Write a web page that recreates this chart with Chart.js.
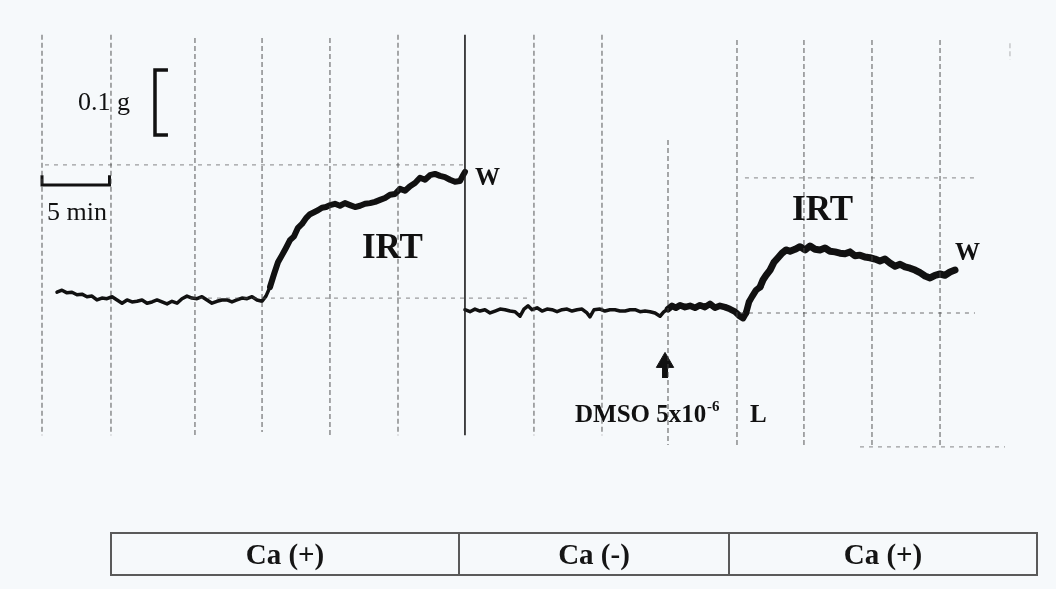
<!DOCTYPE html>
<html>
<head>
<meta charset="utf-8">
<script src="https://cdn.jsdelivr.net/npm/chart.js@4.4.1/dist/chart.umd.min.js"></script>
<style>
  html, body { margin: 0; padding: 0; background: #f6f9fb; }
  #wrap { position: relative; width: 1056px; height: 589px; overflow: hidden; }
  #trace { position: absolute; left: 0; top: 0; }
  #ca {
    position: absolute; left: 110px; top: 532px; width: 926px; height: 44px;
    border-collapse: collapse; table-layout: fixed;
    font-family: "Liberation Serif", "Times New Roman", serif;
    font-weight: bold; font-size: 29px; color: #151515;
  }
  #ca td { border: 2px solid #5a5a5a; text-align: center; padding: 0; }
</style>
</head>
<body>
<div id="wrap">
  <canvas id="trace" width="1056" height="589"></canvas>
  <table id="ca">
    <colgroup><col style="width:348px"><col style="width:270px"><col style="width:308px"></colgroup>
    <tr><td>Ca (+)</td><td>Ca (-)</td><td>Ca (+)</td></tr>
  </table>
</div>
<script>
// isometric tension trace, time in min, tension in g (0 = resting baseline)

// Ca(+) baseline, then IRT contraction until the wash (W)
const irt1Time = [1.11, 1.48, 1.85, 2.22, 2.59, 2.96, 3.33, 3.70, 4.07, 4.44,
  4.81, 5.19, 5.56, 5.93, 6.30, 6.67, 7.04, 7.41, 7.78, 8.15,
  8.52, 8.89, 9.26, 9.63, 10.00, 10.37, 10.74, 11.11, 11.48, 11.85,
  12.22, 12.59, 12.96, 13.33, 13.70, 14.07, 14.44, 14.81, 15.19, 15.56,
  15.93, 16.30,
  16.59, 16.89, 17.19, 17.48, 17.78, 18.07, 18.37, 18.67, 18.96, 19.26,
  19.56, 19.85, 20.15, 20.44, 20.74, 21.04, 21.33,
  21.70, 22.07, 22.44, 22.81, 23.19, 23.56, 23.93, 24.30, 24.67, 25.04,
  25.41, 25.78, 26.15, 26.52, 26.89, 27.26, 27.63, 28.00, 28.37, 28.74,
  29.11, 29.48, 29.85, 30.22, 30.59, 30.96, 31.19, 31.33];
const irt1Force = [0.012, 0.015, 0.011, 0.012, 0.008, 0.009, 0.005, 0.006, 0.000, 0.003,
  0.002, 0.005, 0.000, -0.005, 0.000, -0.003, -0.002, 0.000, -0.005, -0.003,
  0.000, -0.003, -0.006, -0.002, -0.005, 0.002, 0.006, 0.003, 0.002, 0.005,
  0.000, -0.005, -0.002, 0.000, 0.000, -0.003, 0.000, 0.003, 0.002, 0.005,
  0.000, -0.002,
  0.006, 0.020, 0.040, 0.058, 0.069, 0.080, 0.092, 0.098, 0.111, 0.117,
  0.126, 0.132, 0.135, 0.138, 0.142, 0.143, 0.146,
  0.148, 0.145, 0.149, 0.146, 0.143, 0.145, 0.148, 0.149, 0.151, 0.154,
  0.157, 0.162, 0.163, 0.171, 0.168, 0.175, 0.180, 0.188, 0.185, 0.192,
  0.194, 0.191, 0.189, 0.185, 0.182, 0.183, 0.192, 0.197];

// Ca(-) after the wash
const washTime = [31.33, 31.70, 32.07, 32.44, 32.81, 33.19, 33.56, 33.93, 34.30, 34.67,
  35.04, 35.41, 35.70, 36.00, 36.30, 36.67, 37.04, 37.41, 37.78, 38.15,
  38.52, 38.89, 39.26, 39.63, 40.00, 40.37, 40.59, 40.89, 41.33, 41.70,
  42.07, 42.44, 42.81, 43.19, 43.56, 43.93, 44.30, 44.67, 45.04, 45.41,
  45.78, 46.07, 46.37];
const washForce = [-0.015, -0.018, -0.014, -0.017, -0.015, -0.020, -0.017, -0.014, -0.015, -0.017,
  -0.018, -0.025, -0.014, -0.009, -0.015, -0.012, -0.017, -0.014, -0.015, -0.018,
  -0.015, -0.014, -0.017, -0.015, -0.014, -0.020, -0.026, -0.015, -0.014, -0.017,
  -0.015, -0.015, -0.017, -0.017, -0.015, -0.015, -0.018, -0.017, -0.018, -0.020,
  -0.025, -0.018, -0.014];

// after DMSO 5x10^-6 L
const dmsoTime = [46.37, 46.67, 46.96, 47.26, 47.63, 48.00, 48.37, 48.74, 49.11, 49.48,
  49.85, 50.22, 50.59, 50.96, 51.33, 51.70, 51.93, 52.15];
const dmsoForce = [-0.014, -0.009, -0.012, -0.008, -0.011, -0.009, -0.012, -0.008, -0.011, -0.006,
  -0.012, -0.009, -0.011, -0.014, -0.018, -0.025, -0.028, -0.020];

// Ca(+) again, second IRT response until W
const irt2Time = [52.15, 52.37, 52.59, 52.89, 53.19, 53.41, 53.63, 53.93, 54.22, 54.52,
  54.81, 55.11, 55.41, 55.78, 56.15, 56.52, 56.89, 57.26, 57.63, 58.00,
  58.37, 58.74, 59.11, 59.48, 59.85, 60.22, 60.59, 60.96, 61.33, 61.70,
  62.07, 62.44, 62.81, 63.19, 63.56, 63.93, 64.30, 64.67, 65.04, 65.41,
  65.78, 66.15, 66.52, 66.89, 67.26, 67.63];
const irt2Force = [-0.020, -0.003, 0.005, 0.015, 0.020, 0.031, 0.038, 0.046, 0.058, 0.065,
  0.072, 0.077, 0.075, 0.078, 0.082, 0.077, 0.083, 0.078, 0.077, 0.080,
  0.075, 0.074, 0.072, 0.071, 0.074, 0.068, 0.069, 0.066, 0.065, 0.063,
  0.060, 0.063, 0.057, 0.052, 0.055, 0.051, 0.049, 0.046, 0.042, 0.037,
  0.034, 0.038, 0.040, 0.038, 0.043, 0.046];

// chart paper: vertical rulings (min) and their extent (g)
const gridMinutes = [0, 5.11, 11.33, 16.30, 21.33, 26.37, 31.33, 36.44, 41.48, 46.37, 51.48, 56.44, 61.48, 66.52, 71.70];
const gridTop = [0.408, 0.408, 0.403, 0.403, 0.403, 0.408, 0.408, 0.408, 0.408, 0.246, 0.400, 0.400, 0.400, 0.400, 0.395];
const gridBottom = [-0.208, -0.208, -0.208, -0.203, -0.208, -0.208, -0.208, -0.208, -0.208, -0.223, -0.226, -0.226, -0.226, -0.226, 0.370];
// horizontal rulings (g) and their extent (min)
const hGridForce = [0.208, 0.003, 0.188, -0.020, -0.226];
const hGridFrom = [0.22, 10.96, 52.07, 51.70, 60.59];
const hGridTo = [31.33, 36.15, 69.11, 69.11, 71.33];

// calibration bars
const timeBarMinutes = 5;
const timeBarStart = 0;
const timeBarLevel = 0.177;
const forceBarGrams = 0.1;
const forceBarAt = 8.37;
const forceBarTop = 0.354;

// DMSO addition
const dmsoAddTime = 46.15;
const dmsoArrowTip = -0.094;

const pts = (xs, ys) => xs.map((x, i) => ({ x: x, y: ys[i] }));
const ink = '#111';

const datasets = [];

gridMinutes.forEach((m, i) => {
  const wash = i === 6;
  datasets.push({
    data: [{ x: m, y: gridTop[i] }, { x: m, y: gridBottom[i] }],
    borderColor: wash ? 'rgba(30,30,30,0.9)' : (i === 14 ? 'rgba(90,90,90,0.35)' : 'rgba(70,70,70,0.7)'),
    borderWidth: wash ? 1.8 : 1.3,
    borderDash: wash ? [] : [5, 3],
    showLine: true, pointRadius: 0
  });
});

hGridForce.forEach((g, i) => {
  datasets.push({
    data: [{ x: hGridFrom[i], y: g }, { x: hGridTo[i], y: g }],
    borderColor: 'rgba(80,80,80,0.55)',
    borderWidth: 1.3,
    borderDash: [4, 5],
    showLine: true, pointRadius: 0
  });
});

// 5 min bar
datasets.push({
  data: [
    { x: timeBarStart, y: timeBarLevel + 0.015 },
    { x: timeBarStart, y: timeBarLevel },
    { x: timeBarStart + timeBarMinutes, y: timeBarLevel },
    { x: timeBarStart + timeBarMinutes, y: timeBarLevel + 0.015 }
  ],
  borderColor: ink, borderWidth: 3, showLine: true, pointRadius: 0
});
// 0.1 g bracket
datasets.push({
  data: [
    { x: forceBarAt + 0.96, y: forceBarTop },
    { x: forceBarAt, y: forceBarTop },
    { x: forceBarAt, y: forceBarTop - forceBarGrams },
    { x: forceBarAt + 0.96, y: forceBarTop - forceBarGrams }
  ],
  borderColor: ink, borderWidth: 3.5, showLine: true, pointRadius: 0
});

const traceStyle = (w0, w1) => ({
  borderColor: ink, showLine: true, pointRadius: 0,
  borderJoinStyle: 'round', borderCapStyle: 'round',
  borderWidth: w0,
  segment: { borderWidth: ctx => (ctx.p1.parsed.y > 0.02 ? w1 : w0) }
});

datasets.push(Object.assign({ data: pts(irt1Time, irt1Force) }, traceStyle(3.5, 6)));
datasets.push(Object.assign({ data: pts(washTime, washForce) }, traceStyle(3.5, 3.5)));
datasets.push(Object.assign({ data: pts(dmsoTime, dmsoForce) }, traceStyle(6.5, 6.5)));
datasets.push(Object.assign({ data: pts(irt2Time, irt2Force) }, traceStyle(6.5, 7)));

// DMSO arrow
datasets.push({
  data: [{ x: dmsoAddTime, y: dmsoArrowTip - 0.008 }, { x: dmsoAddTime, y: dmsoArrowTip - 0.026 }],
  borderColor: ink, borderWidth: 6, showLine: true, pointRadius: 0
});
datasets.push({
  data: [{ x: dmsoAddTime, y: dmsoArrowTip - 0.002 }],
  pointStyle: 'triangle', pointRadius: 10, pointBackgroundColor: ink, pointBorderColor: ink, pointBorderWidth: 1,
  showLine: false
});

// text on the recording, anchored in data units
const notes = [
  { text: '0.1 g', x: 2.67, y: 0.292, font: '26px "Liberation Serif"' },
  { text: '5 min', x: 0.37, y: 0.123, font: '26px "Liberation Serif"' },
  { text: 'IRT', x: 23.70, y: 0.065, font: 'bold 35px "Liberation Serif"' },
  { text: 'W', x: 32.07, y: 0.177, font: 'bold 25px "Liberation Serif"' },
  { text: 'IRT', x: 55.56, y: 0.123, font: 'bold 35px "Liberation Serif"' },
  { text: 'W', x: 67.63, y: 0.062, font: 'bold 25px "Liberation Serif"' },
  { text: 'DMSO 5x10', x: 39.48, y: -0.188, font: 'bold 25px "Liberation Serif"' },
  { text: '-6', x: 49.26, y: -0.171, font: 'bold 15px "Liberation Serif"' },
  { text: 'L', x: 52.44, y: -0.188, font: 'bold 25px "Liberation Serif"' }
];

const notesPlugin = {
  id: 'notes',
  afterDatasetsDraw(chart) {
    const { ctx, scales } = chart;
    ctx.save();
    ctx.fillStyle = ink;
    ctx.textAlign = 'left';
    ctx.textBaseline = 'alphabetic';
    notes.forEach(n => {
      ctx.font = n.font;
      ctx.fillText(n.text, scales.x.getPixelForValue(n.x), scales.y.getPixelForValue(n.y));
    });
    ctx.restore();
  }
};

new Chart(document.getElementById('trace').getContext('2d'), {
  type: 'scatter',
  data: { datasets: datasets },
  options: {
    responsive: false,
    animation: false,
    devicePixelRatio: 1,
    layout: { padding: 0, autoPadding: false },
    plugins: { legend: { display: false }, tooltip: { enabled: false } },
    scales: {
      x: { type: 'linear', display: false, min: -3.111, max: 75.111 },
      y: { type: 'linear', display: false, min: -0.4446, max: 0.4615 }
    }
  },
  plugins: [notesPlugin]
});
</script>
</body>
</html>
